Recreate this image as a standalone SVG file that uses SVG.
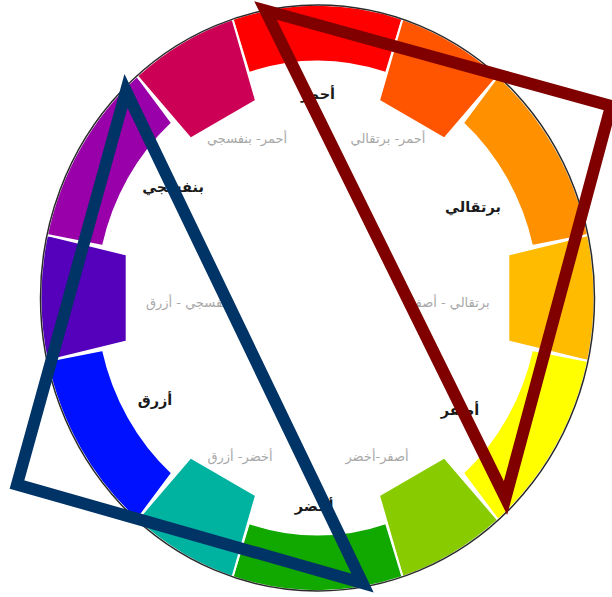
<svg xmlns="http://www.w3.org/2000/svg" width="612" height="597" viewBox="0 0 612 597">
<style>
.seg{stroke:#fff;stroke-width:2;stroke-linejoin:miter}
.rim{fill:none;stroke:#2a2a2a;stroke-width:1.5}
.main{font-family:"DejaVu Sans",sans-serif;font-size:14.5px;font-weight:bold;fill:#1a1a1a;text-anchor:middle}
.sub{font-family:"DejaVu Sans",sans-serif;font-size:13px;fill:#a8a8a8;text-anchor:middle}
.tri{fill:none;stroke-width:12;stroke-linejoin:miter;stroke-miterlimit:10}
</style>
<rect width="612" height="597" fill="#fff"/>
<g id="wheel">
<path id="red" class="seg" fill="#FF0000" d="M232.5,19 A277,293 0 0 1 402.5,19 L386,73 A221,236 0 0 0 249,73 Z"/>
<path id="red-orange" class="seg" fill="#FF5500" d="M402.5,19 A277,293 0 0 1 498,76 L444.5,138.5 L379,100.5 Z"/>
<path id="orange" class="seg" fill="#FF9100" d="M498,76 A277,293 0 0 1 588,235 L532,246 A221,236 0 0 0 463,123 Z"/>
<path id="yellow-orange" class="seg" fill="#FFBB00" d="M588,235 A277,293 0 0 1 588,361 L508.3,341.5 L508.3,254.5 Z"/>
<path id="yellow" class="seg" fill="#FFFF00" d="M588,361 A277,293 0 0 1 498,520 L463,473 A221,236 0 0 0 532,350 Z"/>
<path id="yellow-green" class="seg" fill="#88CC00" d="M498,520 A277,293 0 0 1 402.5,577 L379,495.5 L444.5,457.5 Z"/>
<path id="green" class="seg" fill="#11A800" d="M402.5,577 A277,293 0 0 1 232.5,577 L249,523 A221,236 0 0 0 386,523 Z"/>
<path id="blue-green" class="seg" fill="#00B2A0" d="M232.5,577 A277,293 0 0 1 137,520 L190.5,457.5 L256,495.5 Z"/>
<path id="blue" class="seg" fill="#0011FF" d="M137,520 A277,293 0 0 1 47,361 L103,350 A221,236 0 0 0 172,473 Z"/>
<path id="blue-violet" class="seg" fill="#5500BB" d="M47,361 A277,293 0 0 1 47,235 L126.7,254.5 L126.7,341.5 Z"/>
<path id="violet" class="seg" fill="#9900AA" d="M47,235 A277,293 0 0 1 137,76 L172,123 A221,236 0 0 0 103,246 Z"/>
<path id="red-violet" class="seg" fill="#CC0055" d="M137,76 A277,293 0 0 1 232.5,19 L256,100.5 L190.5,138.5 Z"/>
<ellipse class="rim" cx="317.5" cy="298" rx="277" ry="293"/>
</g>
<g id="labels">
<text class="main" x="318" y="99">أحمر</text>
<text class="main" x="473" y="212">برتقالي</text>
<text class="main" x="460" y="415">أصفر</text>
<text class="main" x="314" y="511">أخضر</text>
<text class="main" x="155" y="405">أزرق</text>
<text class="main" x="173" y="192">بنفسجي</text>
<text class="sub" x="247" y="143">أحمر- بنفسجي</text>
<text class="sub" x="388" y="143">أحمر- برتقالي</text>
<text class="sub" x="449" y="307">برتقالي - أصفر</text>
<text class="sub" x="377" y="461">أصفر-أخضر</text>
<text class="sub" x="240" y="461">أخضر- أزرق</text>
<text class="sub" x="188" y="307">بنفسجي - أزرق</text>
</g>
<g id="triangles">
<polygon id="red-triangle" class="tri" stroke="#800000" points="265.5,10.5 611,106 505.5,498"/>
<polygon id="blue-triangle" class="tri" stroke="#003366" points="126,91 17,484.5 362.5,583"/>
</g>
</svg>
